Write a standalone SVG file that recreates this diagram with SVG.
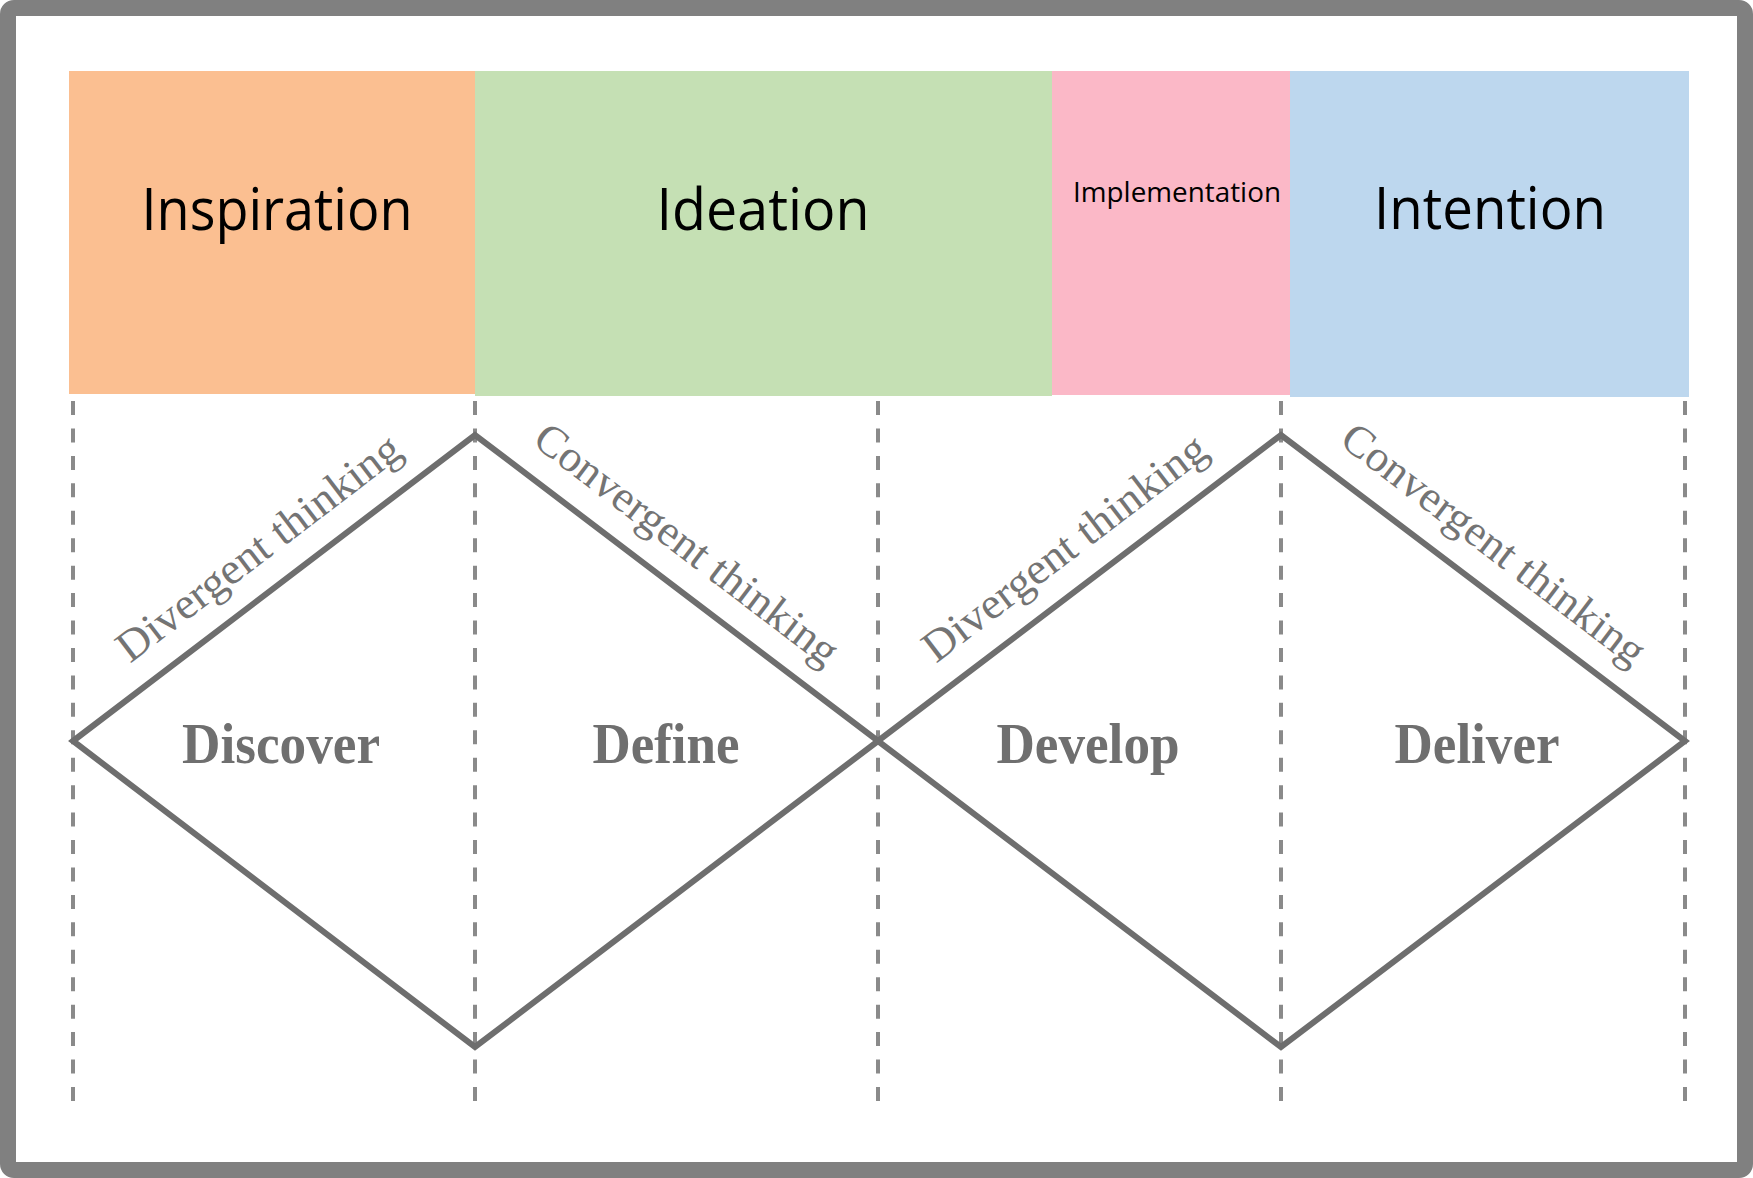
<svg xmlns="http://www.w3.org/2000/svg" width="1753" height="1178" viewBox="0 0 1753 1178">
  <style>
    .phase { font-family: "Open Sans", "Liberation Sans", sans-serif; fill: #000000; text-anchor: middle; }
    .big { font-size: 58px; }
    .small { font-size: 27px; }
    .guide { stroke: #8a8a8a; stroke-width: 4; stroke-dasharray: 14 13.44; fill: none; }
    .diamond { stroke: #6e6e6e; stroke-width: 6; fill: none; stroke-linejoin: miter; }
    .think { font-family: "Liberation Serif", "Times New Roman", serif; font-size: 44px; fill: #747474; text-anchor: middle; }
    .stage { font-family: "Liberation Serif", "Times New Roman", serif; font-size: 56px; font-weight: bold; fill: #6f6f6f; text-anchor: middle; }
  </style>
  <rect x="0" y="0" width="1753" height="1178" fill="#ffffff"/>
  <rect id="frame" x="8" y="8" width="1737" height="1162" rx="6" ry="6" fill="#ffffff" stroke="#808080" stroke-width="16"/>

  <g id="inspiration">
    <rect x="69" y="71" width="406" height="323" fill="#FBBF91"/>
    <text class="phase big" x="277" y="230" textLength="271" lengthAdjust="spacingAndGlyphs">Inspiration</text>
  </g>
  <g id="ideation">
    <rect x="475" y="71" width="577" height="325" fill="#C5E0B4"/>
    <text class="phase big" x="763" y="230" textLength="213" lengthAdjust="spacingAndGlyphs">Ideation</text>
  </g>
  <g id="implementation">
    <rect x="1052" y="71" width="238" height="324" fill="#FBB8C7"/>
    <text class="phase small" x="1177" y="202" textLength="208" lengthAdjust="spacingAndGlyphs">Implementation</text>
  </g>
  <g id="intention">
    <rect x="1290" y="71" width="399" height="326" fill="#BDD7EE"/>
    <text class="phase big" x="1490" y="229" textLength="232" lengthAdjust="spacingAndGlyphs">Intention</text>
  </g>

  <g id="connectors">
    <line class="guide" x1="73" y1="401" x2="73" y2="1101"/>
    <line class="guide" x1="475" y1="401" x2="475" y2="1101"/>
    <line class="guide" x1="878" y1="401" x2="878" y2="1101"/>
    <line class="guide" x1="1281" y1="401" x2="1281" y2="1101"/>
    <line class="guide" x1="1685" y1="401" x2="1685" y2="1101"/>
    <path class="diamond" d="M73,741 L475,435 L878,741 L1281,435 L1685,741 L1281,1047 L878,741 L475,1047 Z"/>
  </g>

  <g id="divergent-1">
    <text class="think" transform="translate(274,588) rotate(-37.3)" x="12" y="-27" textLength="345" lengthAdjust="spacingAndGlyphs">Divergent thinking</text>
  </g>
  <g id="convergent-1">
    <text class="think" transform="translate(676,588) rotate(37.3)" x="-18" y="-27" textLength="370" lengthAdjust="spacingAndGlyphs">Convergent thinking</text>
  </g>
  <g id="divergent-2">
    <text class="think" transform="translate(1080,588) rotate(-37.3)" x="12" y="-27" textLength="345" lengthAdjust="spacingAndGlyphs">Divergent thinking</text>
  </g>
  <g id="convergent-2">
    <text class="think" transform="translate(1483,588) rotate(37.3)" x="-18" y="-27" textLength="370" lengthAdjust="spacingAndGlyphs">Convergent thinking</text>
  </g>

  <g id="discover">
    <text class="stage" x="281" y="763" textLength="198" lengthAdjust="spacingAndGlyphs">Discover</text>
  </g>
  <g id="define">
    <text class="stage" x="666" y="763" textLength="147" lengthAdjust="spacingAndGlyphs">Define</text>
  </g>
  <g id="develop">
    <text class="stage" x="1088" y="763" textLength="183" lengthAdjust="spacingAndGlyphs">Develop</text>
  </g>
  <g id="deliver">
    <text class="stage" x="1477" y="763" textLength="165" lengthAdjust="spacingAndGlyphs">Deliver</text>
  </g>
</svg>
